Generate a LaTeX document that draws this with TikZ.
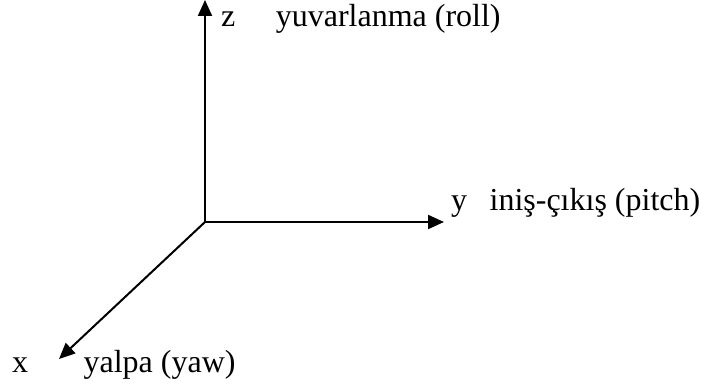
\documentclass[tikz,border=0pt]{standalone}
\usepackage{fontspec}
\setmainfont{Liberation Serif}
\usetikzlibrary{arrows.meta,positioning}

\begin{document}
\begin{tikzpicture}[x=1pt, y=-1pt,
    arr/.style={-{Triangle[length=16pt,width=14pt]}, line width=2pt},
    lbl/.style={font=\fontsize{32}{38}\selectfont, inner sep=0pt},
    every node/.style={inner sep=0pt}]
  \useasboundingbox (0,0) rectangle (704,390);

  % ── axes ─────────────────────────────────────────────────
  \coordinate (o)  at (205,222);
  \coordinate (zt) at (205,0);
  \coordinate (yt) at (444,222);
  \coordinate (xt) at (59,359);
  \draw[arr] (o) -- (zt);
  \draw[arr] (o) -- (yt);
  \draw[arr] (o) -- (xt);

  % ── axis names ───────────────────────────────────────────
  \node[lbl, anchor=base west] (zl) at (221,27) {z};
  \node[lbl, base right=40pt of zl] (zn) {yuvarlanma (roll)};
  \node[lbl, anchor=base west] (yl) at (451,211) {y};
  \node[lbl, base right=22pt of yl] (yn) {iniş-çıkış (pitch)};
  \node[lbl, anchor=base west] (xl) at (12,372) {x};
  \node[lbl, base right=55pt of xl] (xn) {yalpa (yaw)};
\end{tikzpicture}
\end{document}
